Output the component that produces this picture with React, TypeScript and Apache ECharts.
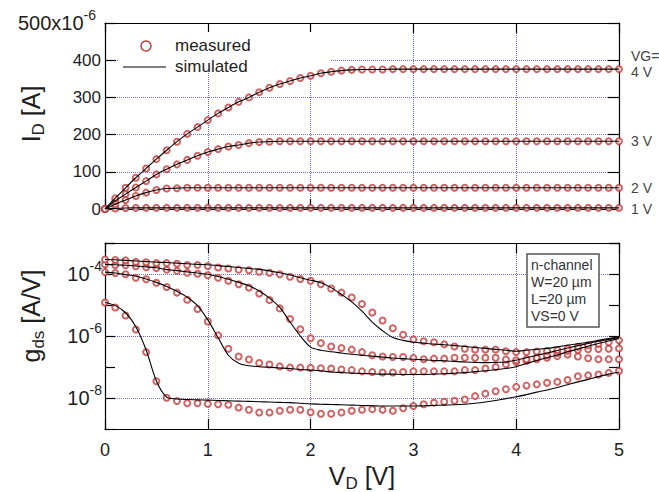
import React, { useEffect, useRef } from "react";
import * as echarts from "echarts";

// Drain voltage grid (V)
const VD = [0, 0.1, 0.2, 0.3, 0.4, 0.5, 0.6, 0.7, 0.8, 0.9, 1, 1.1, 1.2, 1.3, 1.4, 1.5, 1.6, 1.7, 1.8, 1.9, 2, 2.1, 2.2, 2.3, 2.4, 2.5, 2.6, 2.7, 2.8, 2.9, 3, 3.1, 3.2, 3.3, 3.4, 3.5, 3.6, 3.7, 3.8, 3.9, 4, 4.1, 4.2, 4.3, 4.4, 4.5, 4.6, 4.7, 4.8, 4.9, 5];

// Drain current (x10^-6 A), measured and simulated coincide
const ID_VG1 = [0, 1.5, 2.5, 3, 3, 3, 3, 3, 3, 3, 3, 3, 3, 3, 3, 3, 3, 3, 3, 3, 3, 3, 3, 3, 3, 3, 3, 3, 3, 3, 3, 3, 3, 3, 3, 3, 3, 3, 3, 3, 3, 3, 3, 3, 3, 3, 3, 3, 3, 3, 3];
const ID_VG2 = [0, 13, 24, 35, 44, 51, 55, 56, 57, 57, 57, 57, 57, 57, 57, 57, 57, 57, 57, 57, 57, 57, 57, 57, 57, 57, 57, 57, 57, 57, 57, 57, 57, 57, 57, 57, 57, 57, 57, 57, 57, 57, 57, 57, 57, 57, 57, 57, 57, 57, 57];
const ID_VG3 = [0, 22, 40, 58, 75, 93, 107, 120, 132, 143, 153, 161, 168, 172, 177, 180, 181, 182, 182, 182, 182, 182, 182, 182, 182, 182, 182, 182, 182, 182, 182, 182, 182, 182, 182, 182, 182, 182, 182, 182, 182, 182, 182, 182, 182, 182, 182, 182, 182, 182, 182];
const ID_VG4 = [0, 29, 57, 84, 109, 134, 158, 181, 202, 220, 239, 257, 273, 288, 300, 314, 326, 336, 344, 352, 358, 365, 369, 372, 374, 375, 375, 375, 376, 376, 376, 376, 376, 376, 376, 376, 376, 376, 376, 376, 376, 376, 376, 376, 376, 376, 376, 376, 376, 376, 376];

// Output conductance, log10(gds [A/V])
const GDS_MEAS_VG1 = [-4.92, -5.08, -5.34, -5.79, -6.52, -7.46, -7.99, -8.10, -8.17, -8.17, -8.19, -8.20, -8.22, -8.31, -8.38, -8.47, -8.47, -8.41, -8.38, -8.38, -8.46, -8.51, -8.51, -8.47, -8.41, -8.38, -8.36, -8.38, -8.41, -8.33, -8.26, -8.20, -8.15, -8.12, -8.09, -8.05, -7.94, -7.86, -7.78, -7.72, -7.64, -7.60, -7.56, -7.51, -7.48, -7.42, -7.30, -7.27, -7.24, -7.19, -7.13];
const GDS_SIM_VG1 = [-4.92, -5.02, -5.25, -5.70, -6.45, -7.45, -7.97, -8.03, -8.05, -8.06, -8.07, -8.08, -8.09, -8.10, -8.11, -8.12, -8.13, -8.14, -8.15, -8.17, -8.19, -8.20, -8.21, -8.22, -8.23, -8.24, -8.25, -8.26, -8.26, -8.26, -8.26, -8.25, -8.24, -8.23, -8.22, -8.20, -8.17, -8.13, -8.08, -8.02, -7.96, -7.89, -7.81, -7.74, -7.66, -7.57, -7.48, -7.40, -7.31, -7.23, -7.16];
const GDS_MEAS_VG2 = [-3.94, -3.97, -4.01, -4.12, -4.17, -4.28, -4.42, -4.60, -4.83, -5.13, -5.53, -5.98, -6.41, -6.66, -6.76, -6.87, -6.92, -6.98, -7.02, -7.02, -7.03, -7.04, -7.05, -7.08, -7.10, -7.14, -7.16, -7.18, -7.18, -7.16, -7.14, -7.14, -7.14, -7.14, -7.14, -7.10, -7.10, -7.05, -7.00, -6.91, -6.84, -6.80, -6.75, -6.70, -6.65, -6.60, -6.66, -6.72, -6.75, -6.75, -6.75];
const GDS_SIM_VG2 = [-3.94, -3.97, -4.02, -4.07, -4.16, -4.27, -4.40, -4.56, -4.75, -5.02, -5.48, -6.05, -6.62, -6.88, -6.96, -6.99, -7.01, -7.03, -7.05, -7.08, -7.10, -7.12, -7.16, -7.18, -7.20, -7.21, -7.22, -7.23, -7.23, -7.24, -7.24, -7.24, -7.23, -7.22, -7.20, -7.18, -7.15, -7.12, -7.09, -7.05, -6.99, -6.89, -6.79, -6.70, -6.61, -6.51, -6.42, -6.33, -6.24, -6.16, -6.08];
const GDS_MEAS_VG3 = [-3.69, -3.71, -3.72, -3.75, -3.78, -3.81, -3.86, -3.90, -3.96, -3.99, -4.04, -4.12, -4.22, -4.33, -4.44, -4.63, -4.84, -5.11, -5.45, -5.78, -6.07, -6.23, -6.34, -6.39, -6.44, -6.52, -6.62, -6.66, -6.68, -6.68, -6.71, -6.75, -6.73, -6.73, -6.70, -6.70, -6.70, -6.70, -6.70, -6.76, -6.78, -6.75, -6.70, -6.62, -6.55, -6.48, -6.45, -6.43, -6.42, -6.41, -6.40];
const GDS_SIM_VG3 = [-3.69, -3.70, -3.72, -3.74, -3.77, -3.80, -3.86, -3.89, -3.93, -3.97, -4.01, -4.08, -4.17, -4.27, -4.38, -4.55, -4.78, -5.08, -5.55, -6.00, -6.36, -6.46, -6.51, -6.55, -6.59, -6.62, -6.65, -6.68, -6.71, -6.73, -6.75, -6.77, -6.79, -6.80, -6.82, -6.84, -6.85, -6.86, -6.85, -6.84, -6.78, -6.70, -6.62, -6.55, -6.47, -6.39, -6.31, -6.24, -6.17, -6.11, -6.05];
const GDS_MEAS_VG4 = [-3.53, -3.55, -3.56, -3.61, -3.62, -3.65, -3.65, -3.67, -3.71, -3.71, -3.74, -3.79, -3.82, -3.86, -3.88, -3.93, -3.96, -4.01, -4.09, -4.16, -4.22, -4.33, -4.47, -4.60, -4.76, -4.97, -5.24, -5.50, -5.75, -5.96, -6.11, -6.17, -6.20, -6.27, -6.34, -6.41, -6.44, -6.44, -6.44, -6.49, -6.52, -6.52, -6.50, -6.48, -6.45, -6.40, -6.35, -6.30, -6.25, -6.20, -6.14];
const GDS_SIM_VG4 = [-3.53, -3.54, -3.56, -3.58, -3.60, -3.62, -3.63, -3.65, -3.67, -3.69, -3.70, -3.73, -3.76, -3.79, -3.82, -3.85, -3.90, -3.96, -4.03, -4.12, -4.20, -4.28, -4.44, -4.66, -4.90, -5.20, -5.55, -5.83, -6.05, -6.14, -6.20, -6.23, -6.26, -6.28, -6.31, -6.34, -6.37, -6.40, -6.43, -6.46, -6.49, -6.46, -6.43, -6.40, -6.35, -6.30, -6.25, -6.20, -6.14, -6.08, -6.02];

const VG_LABELS = ["1 V", "2 V", "3 V", "4 V"];
const GDS_LABEL_EXPS = [-4, -6, -8];
const INFO_LINES = ["n-channel", "W=20 µm", "L=20 µm", "VS=0 V"];

const FONT = "Arial, 'Liberation Sans', Helvetica, sans-serif";
const MARK = "#c43c3c";
const GRIDC = "#3c3ce6";
const TXT = "#1e1e1e";

export default function App() {
  const ref = useRef<HTMLDivElement>(null);
  useEffect(() => {
    document.body.style.margin = "0";
    const chart = echarts.init(ref.current!, null, { renderer: "svg" });
    const pairs = (ys: number[]) => VD.map((x, i) => [x, ys[i]]);
    const pairsLog = (ys: number[]) => VD.map((x, i) => [x, Math.pow(10, ys[i])]);

    const tick = (len: number) => ({ show: true, inside: true, length: len, lineStyle: { color: "#000", width: 1.2 } });
    const axisLine = { show: true, onZero: false, lineStyle: { color: "#000", width: 1.2 } };
    const split = { show: true, lineStyle: { color: GRIDC, type: "dotted", width: 1, opacity: 0.75 } };
    const xBase = { type: "value", min: 0, max: 5, interval: 1, axisLine, axisTick: tick(10) };
    const supRich = (big: number, small: number, padRight: number) => ({
      a: { fontSize: big, lineHeight: 30, verticalAlign: "middle", fontFamily: FONT, color: TXT },
      b: { fontSize: small, lineHeight: small, verticalAlign: "top", fontFamily: FONT, color: TXT, padding: [0, padRight, 0, 0] },
    });

    const idSets = [ID_VG1, ID_VG2, ID_VG3, ID_VG4];
    const gMeas = [GDS_MEAS_VG1, GDS_MEAS_VG2, GDS_MEAS_VG3, GDS_MEAS_VG4];
    const gSim = [GDS_SIM_VG1, GDS_SIM_VG2, GDS_SIM_VG3, GDS_SIM_VG4];
    const endOffsets = [[0, 1], [0, 0], [0, 0], [0, 3]];

    const series: any[] = [];
    idSets.forEach((arr, i) => {
      series.push({
        type: "scatter", xAxisIndex: 0, yAxisIndex: 0, data: pairs(arr),
        symbol: "emptyCircle", symbolSize: 6, clip: false, z: 3, silent: true,
        itemStyle: { color: MARK, borderColor: MARK, borderWidth: 1.2 },
      });
      series.push({
        type: "line", xAxisIndex: 0, yAxisIndex: 0, data: pairs(arr),
        showSymbol: false, symbol: "none", z: 4, silent: true, smooth: 0.3,
        lineStyle: { color: "#000", width: 1.1 },
        endLabel: { show: true, formatter: VG_LABELS[i], color: "#444", fontSize: 14, fontFamily: FONT, distance: 12, offset: endOffsets[i] },
      });
    });
    gMeas.forEach((arr, i) => {
      series.push({
        type: "scatter", xAxisIndex: 2, yAxisIndex: 2, data: pairsLog(arr),
        symbol: "emptyCircle", symbolSize: 6, clip: false, z: 3, silent: true,
        itemStyle: { color: MARK, borderColor: MARK, borderWidth: 1.2 },
      });
      series.push({
        type: "line", xAxisIndex: 2, yAxisIndex: 2, data: pairsLog(gSim[i]),
        showSymbol: false, symbol: "none", z: 4, silent: true, smooth: 0.3,
        lineStyle: { color: "#000", width: 1.1 },
      });
    });

    const subRich = {
      m: { fontSize: 25, lineHeight: 32, verticalAlign: "middle", fontFamily: FONT, fill: TXT, color: TXT },
      s: { fontSize: 17, lineHeight: 14, verticalAlign: "bottom", fontFamily: FONT, fill: TXT, color: TXT },
    };
    const rotTitle = (x: number, y: number, text: string) => ({
      type: "text", x, y, rotation: Math.PI / 2, z: 5,
      style: { text, align: "center", verticalAlign: "middle", fill: TXT, fontFamily: FONT, rich: subRich },
    });

    const graphic: any[] = [
      { type: "rect", shape: { x: 118, y: 32, width: 212, height: 40 }, style: { fill: "#fff" }, z: 1 },
      { type: "circle", shape: { cx: 146, cy: 46, r: 5 }, style: { fill: "#fff", stroke: MARK, lineWidth: 1.5 }, z: 5 },
      { type: "text", x: 175, y: 45, z: 5, style: { text: "measured", fontSize: 17, fontFamily: FONT, fill: TXT, verticalAlign: "middle" } },
      { type: "line", shape: { x1: 123, y1: 67, x2: 166, y2: 67 }, style: { stroke: "#000", lineWidth: 1.2 }, z: 5 },
      { type: "text", x: 175, y: 66, z: 5, style: { text: "simulated", fontSize: 17, fontFamily: FONT, fill: TXT, verticalAlign: "middle" } },
      { type: "text", x: 631, y: 56, z: 5, style: { text: "VG=", fontSize: 14, fontFamily: FONT, fill: "#444", verticalAlign: "middle" } },
      rotTitle(31, 114, "{m|I}{s|D}{m| [A]}"),
      rotTitle(31, 316, "{m|g}{s|ds}{m| [A/V]}"),
      {
        type: "text", x: 362, y: 476, z: 5,
        style: { text: "{m|V}{s|D}{m| [V]}", align: "center", verticalAlign: "middle", fill: TXT, fontFamily: FONT, rich: subRich },
      },
      { type: "rect", shape: { x: 527, y: 254, width: 72, height: 73 }, style: { fill: "#fff", stroke: "#555", lineWidth: 1.5 }, z: 5 },
      ...INFO_LINES.map((t, i) => ({
        type: "text", x: 531, y: 265 + i * 17, z: 6,
        style: { text: t, fontSize: 14, fontFamily: FONT, fill: "#333", verticalAlign: "middle" },
      })),
    ];

    chart.setOption({
      animation: false,
      backgroundColor: "#fff",
      grid: [
        { left: 105, top: 23, width: 514, height: 186, containLabel: false, outerBoundsMode: "none" },
        { left: 105, top: 243, width: 514, height: 186, containLabel: false, outerBoundsMode: "none" },
      ],
      xAxis: [
        { ...xBase, gridIndex: 0, position: "bottom", axisLabel: { show: false }, splitLine: split },
        { ...xBase, gridIndex: 0, position: "top", axisLabel: { show: false }, splitLine: { show: false } },
        {
          ...xBase, gridIndex: 1, position: "bottom", splitLine: split,
          axisLabel: { show: true, fontSize: 18, color: TXT, fontFamily: FONT, margin: 12 },
        },
        { ...xBase, gridIndex: 1, position: "top", axisLabel: { show: false }, splitLine: { show: false } },
      ],
      yAxis: [
        {
          type: "value", gridIndex: 0, position: "left", min: 0, max: 500, interval: 100,
          axisLine, axisTick: tick(11), splitLine: split,
          axisLabel: {
            fontSize: 17, color: TXT, fontFamily: FONT, margin: 4,
            formatter: (v: number) => (v === 500 ? "{a|500x10}{b|-6}" : String(v)),
            rich: supRich(20, 14, 5),
          },
        },
        {
          type: "value", gridIndex: 0, position: "right", min: 0, max: 500, interval: 100,
          axisLine, axisTick: tick(11), splitLine: { show: false }, axisLabel: { show: false },
        },
        {
          type: "log", logBase: 10, gridIndex: 1, position: "left", min: 1e-9, max: 1e-3, interval: 1,
          axisLine, axisTick: tick(10),
          splitLine: { show: true, lineStyle: { color: ["rgba(0,0,0,0)", GRIDC], type: "dotted", width: 1, opacity: 0.75 } },
          axisLabel: {
            fontSize: 17, color: TXT, fontFamily: FONT, margin: 3,
            formatter: (v: number) => {
              const e = Math.round(Math.log10(v));
              return GDS_LABEL_EXPS.includes(e) ? `{a|10}{b|${e}}` : "";
            },
            rich: supRich(20, 14, 0),
          },
        },
        {
          type: "log", logBase: 10, gridIndex: 1, position: "right", min: 1e-9, max: 1e-3, interval: 1,
          axisLine, axisTick: tick(10), splitLine: { show: false }, axisLabel: { show: false },
        },
      ],
      series,
      graphic,
    });
    return () => chart.dispose();
  }, []);
  return <div ref={ref} style={{ position: "fixed", left: 0, top: 0, width: 659, height: 492 }} />;
}
